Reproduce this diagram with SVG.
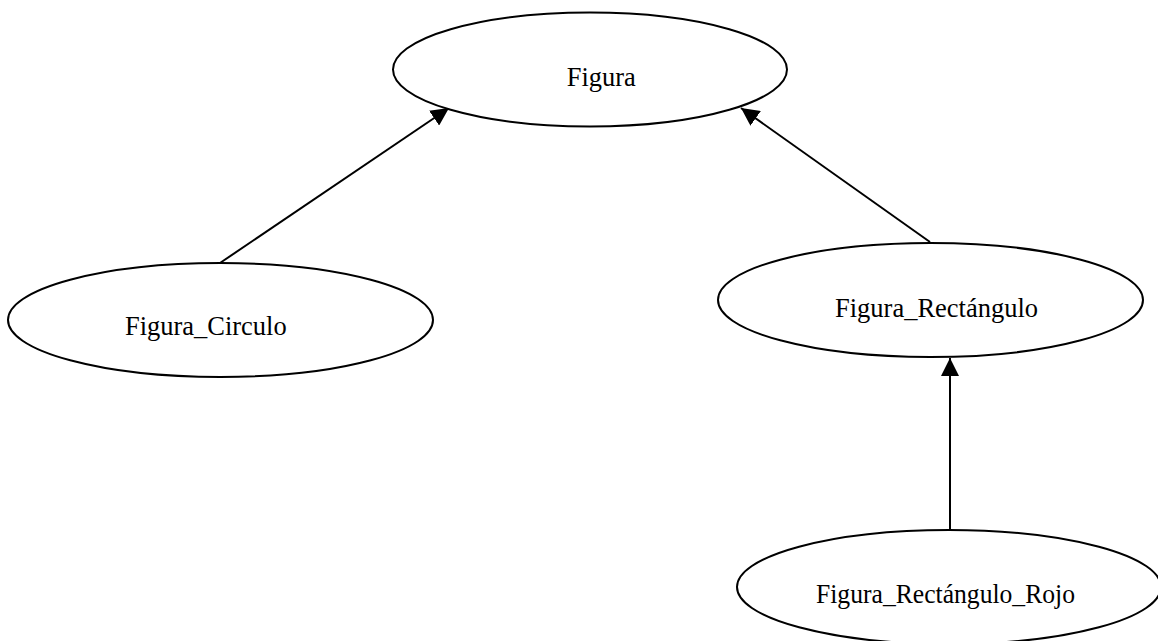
<svg xmlns="http://www.w3.org/2000/svg" width="1158" height="641" viewBox="0 0 1158 641">
<style>
.node ellipse{fill:#fff;stroke:#000;stroke-width:2}
.node text{font-family:"Liberation Serif","Times New Roman",serif;font-size:28px;fill:#000;text-anchor:middle}
.edge{stroke:#000;stroke-width:2;fill:none;marker-end:url(#arr)}
</style>
<defs>
<marker id="arr" markerUnits="userSpaceOnUse" markerWidth="18" markerHeight="18" viewBox="0 0 16 16" refX="16" refY="8" orient="auto">
<path d="M0,0 L16,8 L0,16 Z" fill="#000"/>
</marker>
</defs>
<rect width="1158" height="641" fill="#fff"/>
<g id="connectors">
<line class="edge" x1="220" y1="263" x2="449" y2="108"/>
<line class="edge" x1="930" y1="242" x2="741" y2="108"/>
<line class="edge" x1="950" y1="530" x2="950" y2="358"/>
</g>
<g id="figura" class="node">
<ellipse cx="590" cy="69.5" rx="197" ry="57"/>
<text x="601.3" y="86" textLength="69" lengthAdjust="spacingAndGlyphs">Figura</text>
</g>
<g id="figura_circulo" class="node">
<ellipse cx="220.5" cy="320" rx="212.5" ry="57"/>
<text x="205.8" y="335" textLength="161.7" lengthAdjust="spacingAndGlyphs">Figura_Circulo</text>
</g>
<g id="figura_rectangulo" class="node">
<ellipse cx="930.5" cy="300" rx="212.5" ry="57"/>
<text x="936.5" y="317" textLength="203" lengthAdjust="spacingAndGlyphs">Figura_Rectángulo</text>
</g>
<g id="figura_rectangulo_rojo" class="node">
<ellipse cx="949" cy="587" rx="212" ry="57"/>
<text x="945.5" y="603" textLength="259" lengthAdjust="spacingAndGlyphs">Figura_Rectángulo_Rojo</text>
</g>
</svg>
